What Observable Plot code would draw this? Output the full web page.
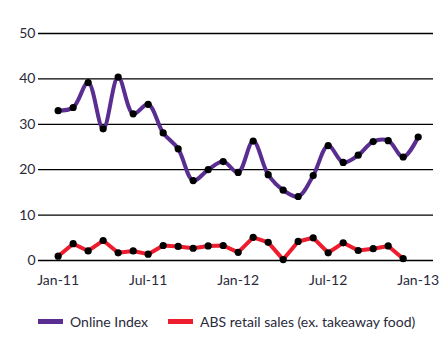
<!DOCTYPE html>
<html>
<head>
<meta charset="utf-8">
<script src="https://cdn.jsdelivr.net/npm/d3@7"></script>
<script src="https://cdn.jsdelivr.net/npm/@observablehq/plot@0.6"></script>
<style>
  html, body { margin: 0; padding: 0; background: #fff; }
  body { width: 448px; height: 353px; overflow: hidden; font-family: Lato, "Open Sans", sans-serif; }
  #legend { position: absolute; left: 38px; top: 313px; display: flex; align-items: center; font-size: 14px; color: #2a2a3a; }
  .item { display: flex; align-items: center; margin-right: 20px; }
  .sw { width: 25px; height: 5px; margin-right: 7px; }
</style>
</head>
<body>
<div id="chart"></div>
<div id="legend"></div>
<script>
const months = ["Jan-11","Feb-11","Mar-11","Apr-11","May-11","Jun-11","Jul-11","Aug-11","Sep-11","Oct-11","Nov-11","Dec-11",
                "Jan-12","Feb-12","Mar-12","Apr-12","May-12","Jun-12","Jul-12","Aug-12","Sep-12","Oct-12","Nov-12","Dec-12","Jan-13"];
const onlineIndex = [33.0,33.7,39.2,29.0,40.4,32.3,34.4,28.1,24.6,17.6,20.0,21.8,19.4,26.3,18.9,15.5,14.1,18.7,25.3,21.6,23.2,26.2,26.4,22.8,27.2];
const absRetail = [0.95,3.7,2.1,4.4,1.7,2.1,1.4,3.3,3.1,2.7,3.2,3.3,1.8,5.1,4.0,0.2,4.2,5.0,1.7,3.9,2.2,2.6,3.2,0.4];
const yTicks = [0,10,20,30,40,50];
const xTickIdx = [0,6,12,18,24];
const seriesNames = ["Online Index","ABS retail sales (ex. takeaway food)"];
const colors = ["#5a2d91","#ed1c2e"];

const online = onlineIndex.map((v,i)=>({i, v}));
const abs = absRetail.map((v,i)=>({i, v}));

const chart = Plot.plot({
  width: 448,
  height: 300,
  marginLeft: 38,
  marginRight: 15,
  marginTop: 33,
  marginBottom: 40,
  style: {fontFamily: "Lato, 'Open Sans', sans-serif", fontSize: "14px", color: "#2a2a3a", background: "#fff"},
  x: {domain: [-1.31, 25.02], ticks: xTickIdx, tickFormat: d => months[d], tickSize: 0, tickPadding: 15, label: null},
  y: {domain: [0, 50], ticks: yTicks, tickSize: 0, tickPadding: 3, label: null},
  marks: [
    Plot.ruleY(yTicks, {stroke: "#000", strokeWidth: 1.3}),
    Plot.line(online, {x: "i", y: "v", stroke: colors[0], strokeWidth: 4, curve: "catmull-rom"}),
    Plot.line(abs, {x: "i", y: "v", stroke: colors[1], strokeWidth: 4}),
    Plot.dot(online, {x: "i", y: "v", fill: "#000", r: 3.6}),
    Plot.dot(abs, {x: "i", y: "v", fill: "#000", r: 3.6})
  ]
});
document.getElementById("chart").appendChild(chart);

const legend = document.getElementById("legend");
seriesNames.forEach((n, k) => {
  const it = document.createElement("div");
  it.className = "item";
  it.innerHTML = `<span class="sw" style="background:${colors[k]}"></span><span>${n}</span>`;
  legend.appendChild(it);
});
</script>
</body>
</html>
